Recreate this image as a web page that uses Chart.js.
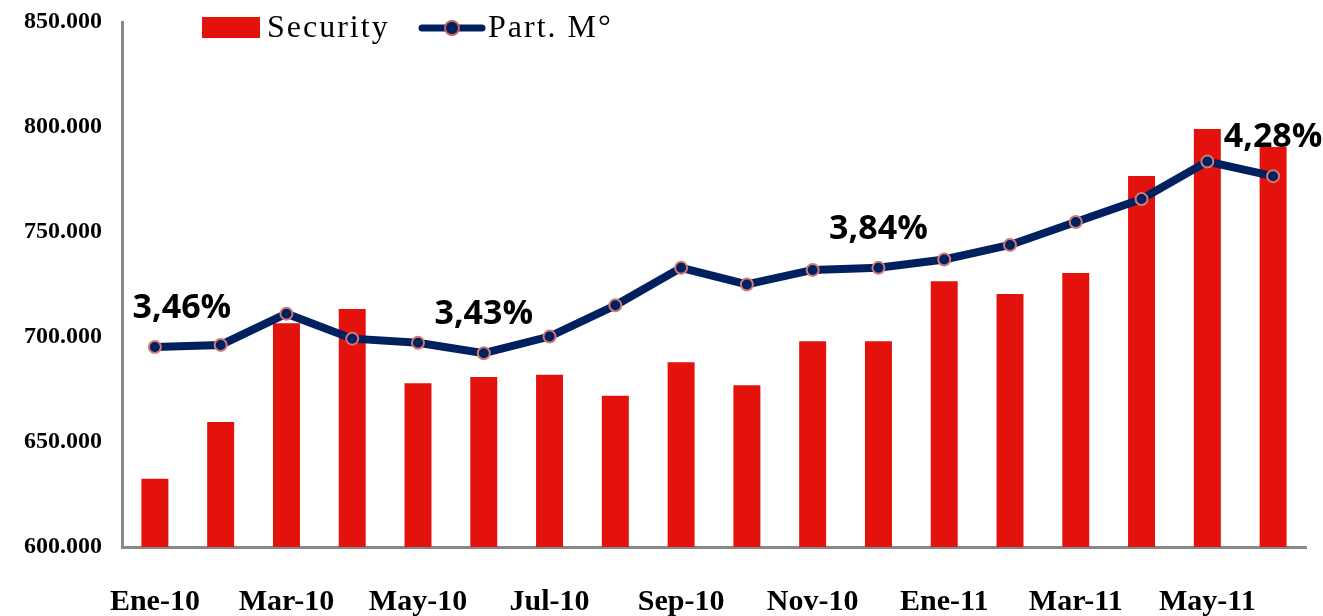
<!DOCTYPE html>
<html>
<head>
<meta charset="utf-8">
<script src="https://cdn.jsdelivr.net/npm/chart.js@4.4.1/dist/chart.umd.min.js"></script>
<style>
  html, body { margin: 0; padding: 0; background: #fff; }
  #wrap { width: 1323px; height: 616px; }
</style>
</head>
<body>
<div id="wrap"><canvas id="myChart" width="1323" height="616"></canvas></div>
<script>
// Chart data
const months = ["Ene-10", "Feb-10", "Mar-10", "Abr-10", "May-10", "Jun-10", "Jul-10", "Ago-10", "Sep-10",
    "Oct-10", "Nov-10", "Dic-10", "Ene-11", "Feb-11", "Mar-11", "Abr-11", "May-11", "Jun-11"];
const security = [632500, 659500, 706500, 713300, 678000, 681000, 682000, 672000, 688000,
    677000, 698000, 698000, 726500, 720500, 730500, 776700, 799000, 790500];
const partM = [3.46, 3.47, 3.62, 3.50, 3.48, 3.43, 3.51, 3.66, 3.84,
    3.76, 3.83, 3.84, 3.88, 3.95, 4.06, 4.17, 4.35, 4.28];
const labelledPoints = [0, 5, 11, 17];
const yTicks = [600000, 650000, 700000, 750000, 800000, 850000];

const RED = "#e3120d";
const NAVY = "#002060";

// number format 850.000
const fmtThousands = function (v) {
    return v.toString().replace(/\B(?=(\d{3})+(?!\d))/g, ".");
};

// Percent labels above selected points
const pointLabels = {
    id: "pointLabels",
    afterDatasetsDraw(chart) {
        const ctx = chart.ctx;
        const meta = chart.getDatasetMeta(1);
        ctx.save();
        ctx.font = "bold 34px 'Open Sans'";
        ctx.fillStyle = "#000";
        ctx.textAlign = "center";
        ctx.textBaseline = "bottom";
        labelledPoints.forEach(function (i) {
            const pt = meta.data[i];
            const text = partM[i].toFixed(2).replace(".", ",") + "%";
            const dx = i === 0 ? 27 : 0;
            ctx.fillText(text, pt.x + dx, pt.y - 22);
        });
        ctx.restore();
    },
};

// Legend drawn inside the plot like the original
const customLegend = {
    id: "customLegend",
    afterDraw(chart) {
        const ctx = chart.ctx;
        ctx.save();
        ctx.font = "32px 'Liberation Serif'";
        ctx.letterSpacing = "2px";
        ctx.textBaseline = "middle";
        ctx.fillStyle = RED;
        ctx.fillRect(202, 17, 58, 21);
        ctx.fillStyle = "#000";
        ctx.fillText(chart.data.datasets[0].label, 267, 29);

        ctx.strokeStyle = NAVY;
        ctx.lineWidth = 7;
        ctx.lineCap = "round";
        ctx.beginPath();
        ctx.moveTo(422, 28);
        ctx.lineTo(482, 28);
        ctx.stroke();
        ctx.beginPath();
        ctx.arc(452, 28, 7, 0, Math.PI * 2);
        ctx.fillStyle = NAVY;
        ctx.fill();
        ctx.lineWidth = 2;
        ctx.strokeStyle = "#c9625c";
        ctx.stroke();
        ctx.fillStyle = "#000";
        ctx.fillText(chart.data.datasets[1].label, 488, 29);
        ctx.restore();
    },
};

const ctx = document.getElementById("myChart");

new Chart(ctx, {
    data: {
        labels: months,
        datasets: [
            {
                type: "bar",
                label: "Security",
                data: security,
                backgroundColor: RED,
                categoryPercentage: 1,
                barPercentage: 0.41,
                yAxisID: "y",
                order: 2,
            },
            {
                type: "line",
                label: "Part. M°",
                data: partM,
                borderColor: NAVY,
                borderWidth: 8,
                pointRadius: 6,
                pointBackgroundColor: NAVY,
                pointBorderColor: "#d07a74",
                pointBorderWidth: 2,
                tension: 0,
                yAxisID: "y1",
                order: 1,
            },
        ],
    },
    options: {
        responsive: false,
        animation: false,
        layout: { padding: { top: 0, right: 17, left: 0, bottom: 0 } },
        plugins: {
            legend: { display: false },
            tooltip: { enabled: false },
        },
        scales: {
            x: {
                grid: { display: false, drawTicks: false },
                border: { color: "#888", width: 3 },
                ticks: {
                    autoSkip: false,
                    maxRotation: 0,
                    padding: 37,
                    color: "#000",
                    font: { family: "'Liberation Serif'", weight: "bold", size: 30 },
                    callback: function (val, i) { return i % 2 === 0 ? months[i] : ""; },
                },
                afterFit: function (scale) { scale.height = 69; },
            },
            y: {
                min: 600000,
                max: 850000,
                afterBuildTicks: function (scale) {
                    scale.ticks = yTicks.map(function (v) { return { value: v }; });
                },
                grid: { display: false, drawTicks: false },
                border: { color: "#888", width: 3 },
                ticks: {
                    padding: 20,
                    color: "#000",
                    font: { family: "'Liberation Serif'", weight: "bold", size: 24 },
                    callback: function (v) { return fmtThousands(v); },
                },
                afterFit: function (scale) {
                    scale.width = 122;
                    scale.paddingTop = 22;
                    scale.paddingBottom = 0;
                },
            },
            y1: {
                display: false,
                min: 2.5,
                max: 5.02,
            },
        },
    },
    plugins: [pointLabels, customLegend],
});
</script>
</body>
</html>
